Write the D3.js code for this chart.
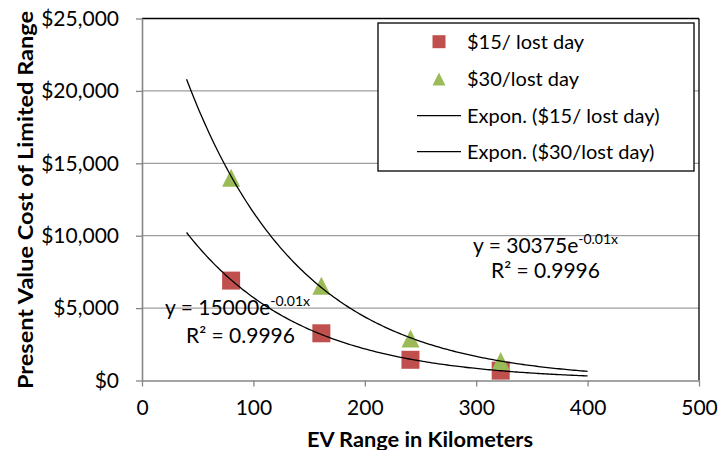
<!DOCTYPE html>
<html><head><meta charset="utf-8">
<script src="https://cdn.jsdelivr.net/npm/d3@7"></script>
<style>
html,body{margin:0;padding:0;background:#fff;}
svg{display:block;font-family:Lato,"Open Sans",sans-serif;}
</style></head>
<body>
<svg id="c" width="718" height="450"></svg>
<script>
// ---- data ----
const rangeKm = [80, 161, 241, 322];
const cost15 = [6900, 3260, 1430, 680];
const cost30 = [14000, 6550, 2900, 1350];
const seriesNames = ["$15/ lost day", "$30/lost day"];
const trendNames = ["Expon. ($15/ lost day)", "Expon. ($30/lost day)"];
const trendRange = [40, 400];
const xTicks = [0, 100, 200, 300, 400, 500];
const yTicks = [0, 5000, 10000, 15000, 20000, 25000];
const eqLabels = [
  {base: "y = 15000e", sup: "-0.01x", r2: "R² = 0.9996"},
  {base: "y = 30375e", sup: "-0.01x", r2: "R² = 0.9996"}
];

const svg = d3.select("#c");
const L = 142, R = 699, T = 18.5, B = 380.5;
const x = d3.scaleLinear().domain([0, 500]).range([L, R]);
const y = d3.scaleLinear().domain([0, 25000]).range([B, T]);
const grey = "#868686";

// gridlines
svg.append("g").selectAll("line").data(yTicks.filter(d => d > 0 && d < 25000)).join("line")
  .attr("x1", L).attr("x2", R).attr("y1", d => y(d)).attr("y2", d => y(d))
  .attr("stroke", grey).attr("stroke-width", 1);

// plot border (top/right black)
svg.append("line").attr("x1", L).attr("x2", R).attr("y1", T).attr("y2", T).attr("stroke", "#000").attr("stroke-width", 1.3);
svg.append("line").attr("x1", R).attr("x2", R).attr("y1", T).attr("y2", B).attr("stroke", "#000").attr("stroke-width", 1.3);

// axes
const yAxis = d3.axisLeft(y).tickValues(yTicks).tickSize(6).tickPadding(17)
  .tickFormat(d => "$" + d3.format(",")(d));
const gy = svg.append("g").attr("transform", `translate(${L},0)`).call(yAxis);
const xAxis = d3.axisBottom(x).tickValues(xTicks).tickSize(6).tickPadding(14);
const gx = svg.append("g").attr("transform", `translate(0,${B})`).call(xAxis);
[gx, gy].forEach(g => {
  g.select(".domain").attr("stroke", grey).attr("stroke-width", 1.6);
  g.selectAll(".tick line").attr("stroke", grey).attr("stroke-width", 1.3);
  g.selectAll(".tick text").attr("fill", "#000").attr("font-size", 21).attr("font-family", "Lato");
});
gx.select(".domain").attr("d", `M${L},0.5H${R}`);
gy.select(".domain").attr("d", `M0.5,${B}V${T}`);

// axis titles
svg.append("text").attr("x", 420).attr("y", 447).attr("text-anchor", "middle")
  .attr("font-weight", "bold").attr("font-size", 20)
  .attr("textLength", 226).attr("lengthAdjust", "spacingAndGlyphs").text("EV Range in Kilometers");
svg.append("text").attr("transform", "translate(33,200) rotate(-90)").attr("text-anchor", "middle")
  .attr("font-weight", "bold").attr("font-size", 20)
  .attr("textLength", 378).attr("lengthAdjust", "spacingAndGlyphs").text("Present Value Cost of Limited Range");

// markers
const sq = 18;
svg.append("g").selectAll("rect").data(rangeKm.map((r, i) => [r, cost15[i]])).join("rect")
  .attr("x", d => x(d[0]) - sq / 2).attr("y", d => y(d[1]) - sq / 2)
  .attr("width", sq).attr("height", sq).attr("fill", "#C0504D");
const tri = (cx, cy, s) => `M${cx},${cy - s / 2}L${cx + s / 2},${cy + s / 2}L${cx - s / 2},${cy + s / 2}Z`;
svg.append("g").selectAll("path").data(rangeKm.map((r, i) => [r, cost30[i]])).join("path")
  .attr("d", d => tri(x(d[0]), y(d[1]), 18)).attr("fill", "#9BBB59");

// exponential trendlines (least squares on ln y)
function expFit(xs, ys) {
  const ly = ys.map(Math.log);
  const mx = d3.mean(xs), my = d3.mean(ly);
  const b = d3.sum(xs, (v, i) => (v - mx) * (ly[i] - my)) / d3.sum(xs, v => (v - mx) ** 2);
  const a = Math.exp(my - b * mx);
  return v => a * Math.exp(b * v);
}
const line = d3.line().x(d => x(d[0])).y(d => y(d[1]));
[cost15, cost30].forEach(vals => {
  const f = expFit(rangeKm, vals);
  const pts = d3.range(trendRange[0], trendRange[1] + 0.01, 2).map(v => [v, f(v)]);
  svg.append("path").attr("d", line(pts)).attr("fill", "none").attr("stroke", "#000").attr("stroke-width", 1.3);
});

// equation labels
const eqPos = [{x: 165, y: 315, rx: 186, ry: 343}, {x: 473, y: 253, rx: 491, ry: 278}];
eqLabels.forEach((e, i) => {
  const p = eqPos[i];
  const t = svg.append("text").attr("x", p.x).attr("y", p.y).attr("font-size", 21);
  t.append("tspan").text(e.base);
  t.append("tspan").attr("font-size", 14).attr("dy", -9).text(e.sup);
  svg.append("text").attr("x", p.rx).attr("y", p.ry).attr("font-size", 21).text(e.r2);
});

// legend
const lg = svg.append("g");
lg.append("rect").attr("x", 378).attr("y", 23).attr("width", 316).attr("height", 148)
  .attr("fill", "#fff").attr("stroke", "#000").attr("stroke-width", 1.3);
const rows = [41.7, 79, 115.7, 151.7];
lg.append("rect").attr("x", 439 - 6.5).attr("y", rows[0] - 6.5).attr("width", 13).attr("height", 13).attr("fill", "#C0504D");
lg.append("path").attr("d", tri(439, rows[1], 13)).attr("fill", "#9BBB59");
[2, 3].forEach(k => lg.append("line").attr("x1", 417).attr("x2", 461).attr("y1", rows[k]).attr("y2", rows[k])
  .attr("stroke", "#000").attr("stroke-width", 1.3));
const labels = seriesNames.concat(trendNames);
lg.selectAll("text").data(labels).join("text")
  .attr("x", 467).attr("y", (d, i) => rows[i] + 7).attr("font-size", 20).text(d => d);
</script>
</body></html>
